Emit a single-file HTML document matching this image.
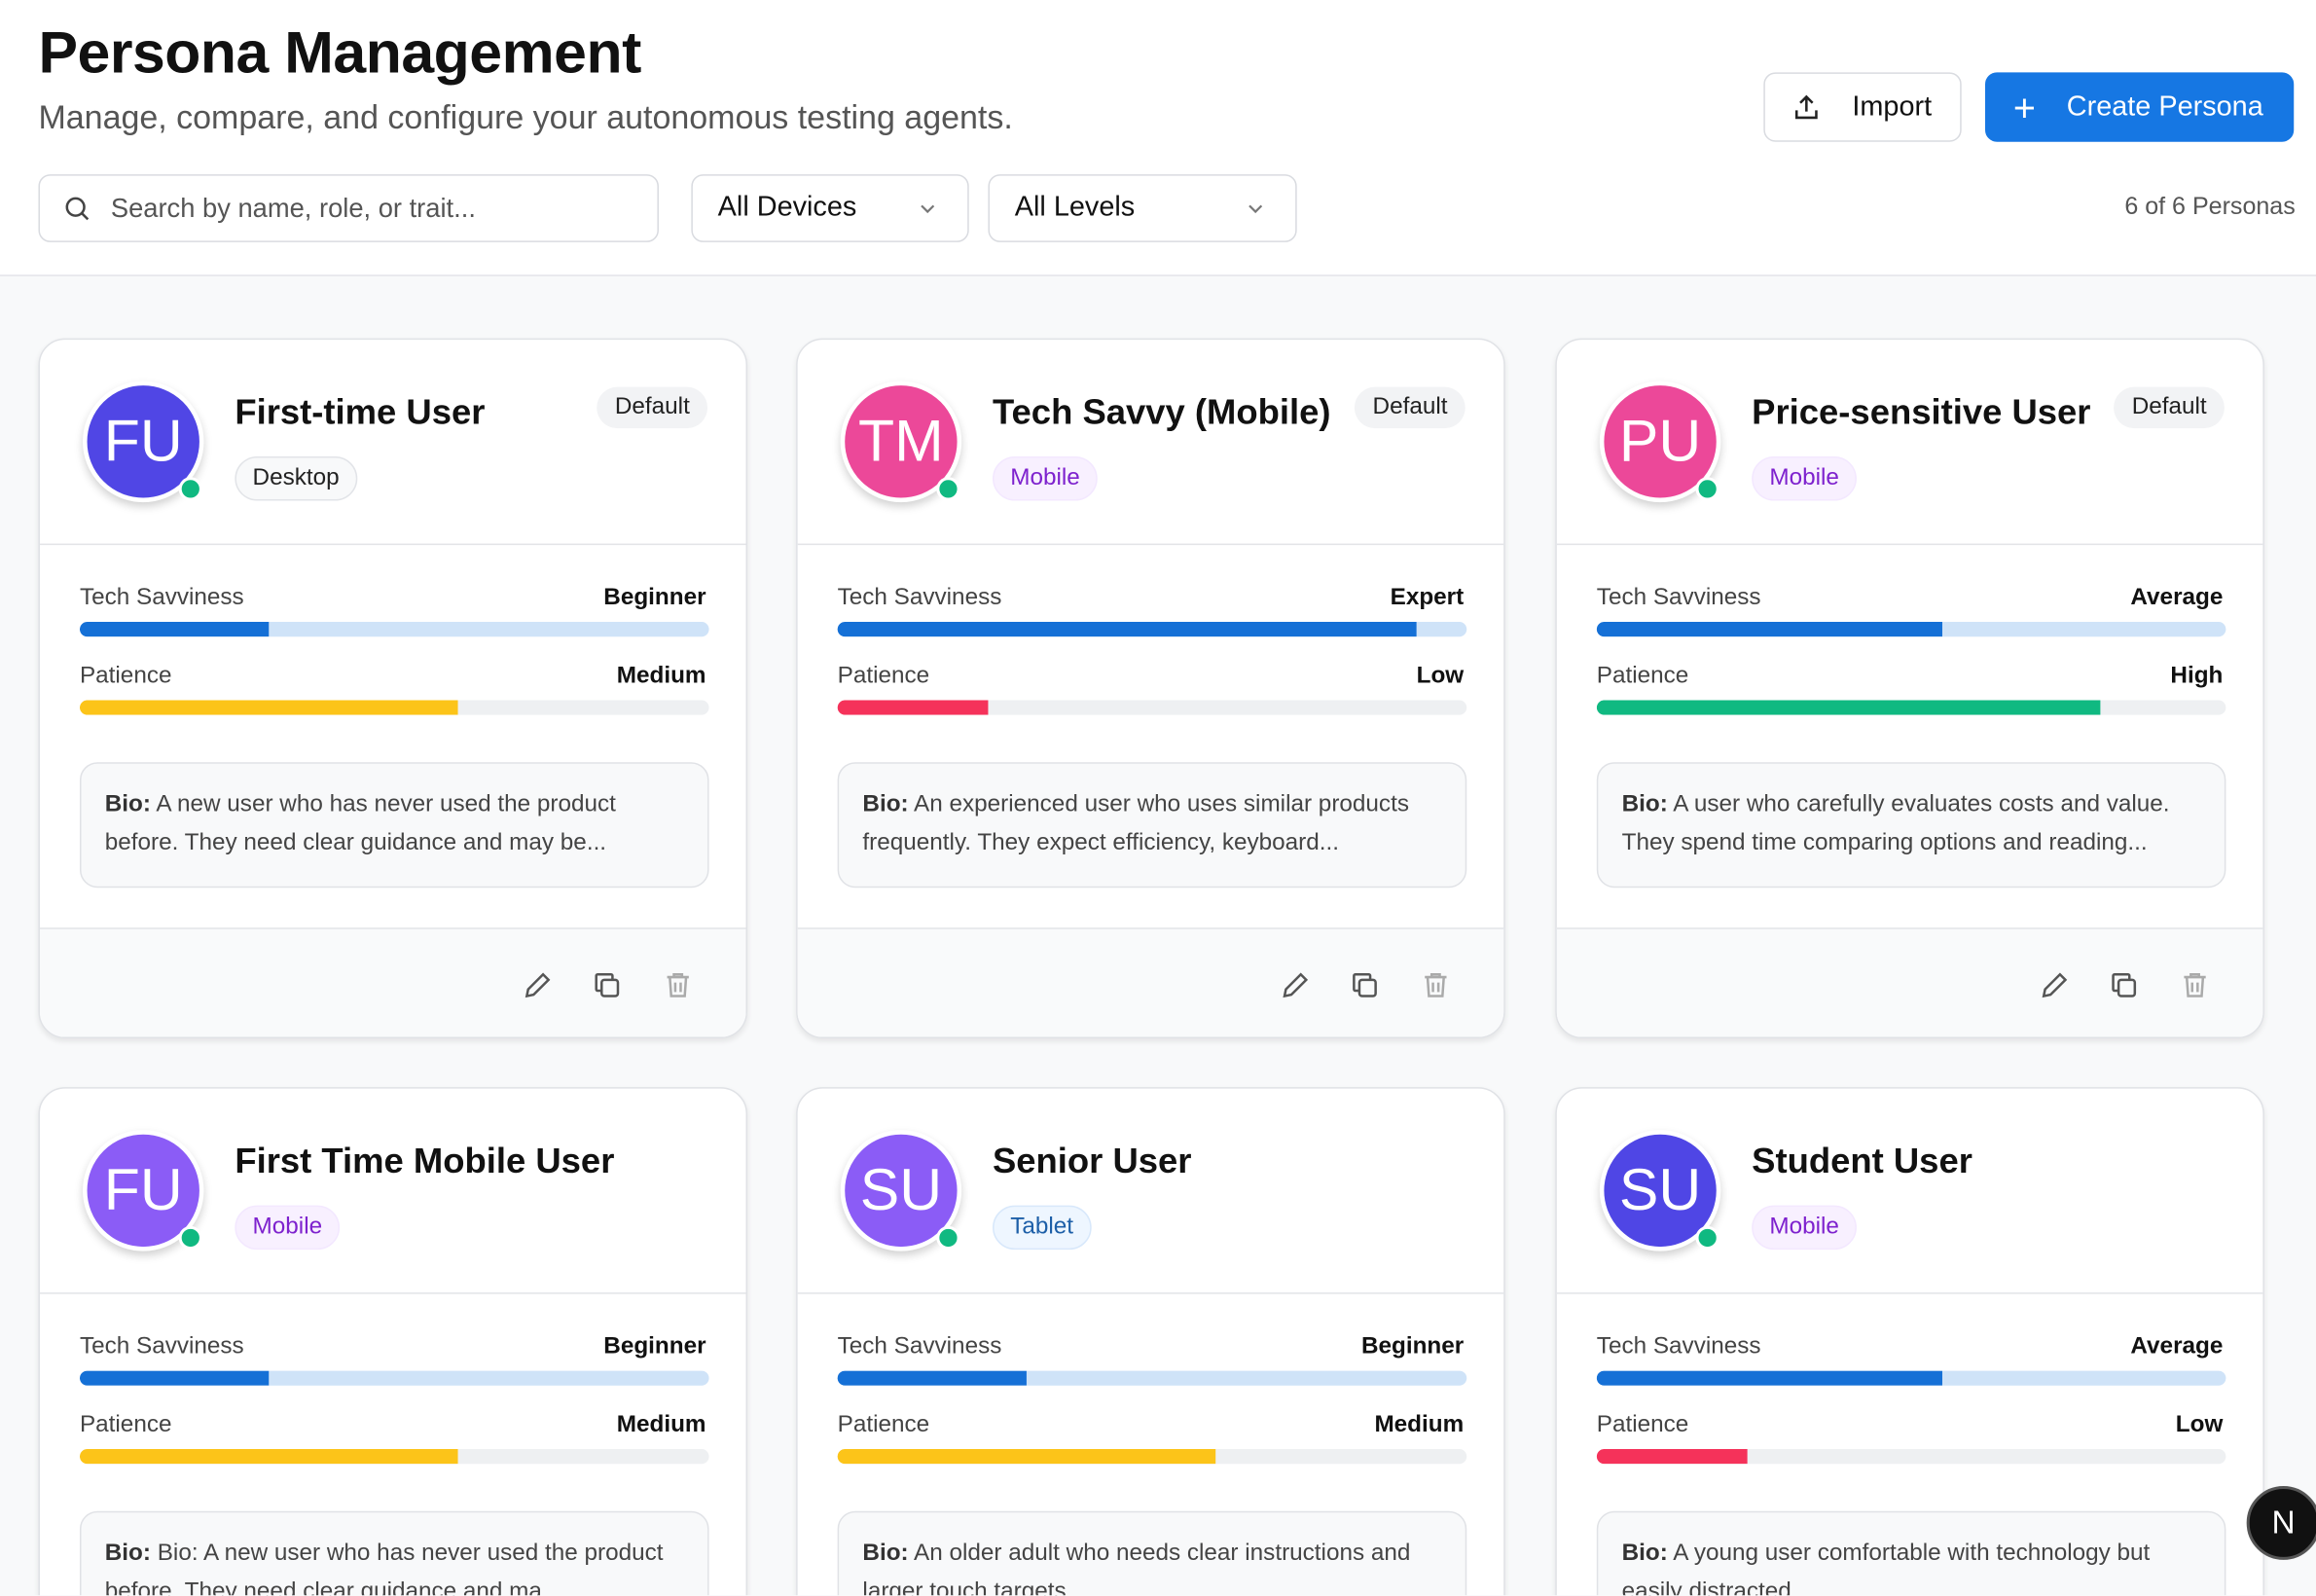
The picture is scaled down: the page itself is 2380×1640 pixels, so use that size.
<!DOCTYPE html>
<html><head><meta charset="utf-8">
<style>
*{box-sizing:border-box;margin:0;padding:0}
html,body{width:2380px;height:1640px;overflow:hidden;background:#f8f9fa}
#w{width:1568px;height:1080px;overflow:hidden;transform:scale(1.51786);transform-origin:0 0;position:relative;font-family:"Liberation Sans",sans-serif;color:#111}
.hdr{position:absolute;left:0;top:0;width:1568px;height:187px;background:#fff;border-bottom:1px solid #e3e4e8}
.abs{position:absolute}
h1{position:absolute;left:26px;top:14px;font-size:40px;font-weight:700;letter-spacing:-0.3px}
.sub{left:26px;top:67px;font-size:22.4px;color:#555}
.btn{border:1px solid #d9dbe0;border-radius:8px;background:#fff;font-size:19px;display:flex;align-items:center}
.card{position:absolute;width:480px;background:#fff;border:1px solid #e0e2e6;border-radius:18px;box-shadow:0 2px 4px rgba(0,0,0,.08);overflow:hidden}
.av{position:absolute;left:29px;top:28px;width:82px;height:82px;border-radius:50%;border:3px solid #fff;box-shadow:0 3px 6px rgba(0,0,0,.18);color:#fff;font-size:40px;display:flex;align-items:center;justify-content:center}
.dot{position:absolute;left:94px;top:93px;width:16px;height:16px;border-radius:50%;background:#10b981;border:2px solid #fff}
.nm{position:absolute;left:132px;top:36px;font-size:24px;font-weight:700}
.bd{position:absolute;left:132px;top:79px;height:30px;padding:0 11px;border-radius:15px;font-size:16px;line-height:28px;border:1px solid #e2e4e8;background:#f8f9fa;color:#222}
.mob{background:#f8f0ff;border-color:#f3e8ff;color:#7e22ce}
.tab{background:#eef6ff;border-color:#d8e8fb;color:#1d5fa8}
.def{position:absolute;right:26px;top:32px;height:28px;padding:0 12px;border-radius:14px;background:#f2f3f5;font-size:16px;line-height:28px;color:#222}
.div{position:absolute;left:0;width:480px;height:1px;background:#e3e4e8}
.lb{position:absolute;left:27px;font-size:16px;color:#444}
.lv{position:absolute;right:27px;font-size:16px;font-weight:700}
.bar{position:absolute;left:27px;width:426px;height:10px;border-radius:5px;overflow:hidden}
.bar i{display:block;height:100%;border-radius:5px 0 0 5px}
.bio{position:absolute;left:27px;top:286px;width:426px;height:85px;border:1px solid #e0e2e6;border-radius:12px;background:#f8f9fa;padding:15px 16px;font-size:16px;line-height:26px;color:#444}
.bio b{color:#333}
.ft{position:absolute;left:0;top:398px;width:480px;height:80px;background:#f9fafb;border-top:1px solid #e3e4e8}
.ic{position:absolute;top:27px}
</style></head><body><div id="w">
<div class="hdr">
<h1>Persona Management</h1>
<div class="abs sub">Manage, compare, and configure your autonomous testing agents.</div>
<div class="abs btn" style="left:1194px;top:49px;width:134px;height:47px;padding-left:18px">
<svg width="20" height="20" viewBox="0 0 24 24" fill="none" stroke="#222" stroke-width="2"><path d="M12 15V3M7 8l5-5 5 5M4 14v6h16v-6"/></svg><span style="margin-left:21px">Import</span></div>
<div class="abs btn" style="left:1344px;top:49px;width:209px;height:47px;background:#1677e3;border-color:#1677e3;color:#fff;padding-left:18px">
<span style="font-size:26px;font-weight:300;line-height:20px">+</span><span style="margin-left:21px">Create Persona</span></div>
<div class="abs btn" style="left:26px;top:118px;width:420px;height:46px;padding-left:15px;color:#555;font-size:18px">
<svg width="20" height="20" viewBox="0 0 24 24" fill="none" stroke="#444" stroke-width="2"><circle cx="11" cy="11" r="7"/><path d="M16 16l5 5"/></svg><span style="margin-left:13px">Search by name, role, or trait...</span></div>
<div class="abs btn" style="left:468px;top:118px;width:188px;height:46px;padding-left:17px">All Devices<svg style="position:absolute;right:20px" width="14" height="14" viewBox="0 0 24 24" fill="none" stroke="#777" stroke-width="2.5"><path d="M5 9l7 7 7-7"/></svg></div>
<div class="abs btn" style="left:669px;top:118px;width:209px;height:46px;padding-left:17px">All Levels<svg style="position:absolute;right:20px" width="14" height="14" viewBox="0 0 24 24" fill="none" stroke="#777" stroke-width="2.5"><path d="M5 9l7 7 7-7"/></svg></div>
<div class="abs" style="right:14px;top:131px;font-size:16.5px;color:#555">6 of 6 Personas</div>
</div>

<div class="card" style="left:26px;top:229px;height:474px">
<div class="av" style="background:#5046e5">FU</div><div class="dot"></div>
<div class="nm">First-time User</div><div class="bd">Desktop</div><div class="def">Default</div>
<div class="div" style="top:138px"></div>
<div class="lb" style="top:166px">Tech Savviness</div><div class="lv" style="top:166px">Beginner</div>
<div class="bar" style="top:191px;background:#cfe3f8"><i style="width:30%;background:#1570d6"></i></div>
<div class="lb" style="top:219px">Patience</div><div class="lv" style="top:219px">Medium</div>
<div class="bar" style="top:244px;background:#eef0f2"><i style="width:60%;background:#fcc419"></i></div>
<div class="bio"><b>Bio:</b> A new user who has never used the product before. They need clear guidance and may be...</div>
<div class="ft"></div>
</div>

<div class="card" style="left:539px;top:229px;height:474px">
<div class="av" style="background:#ec4899">TM</div><div class="dot"></div>
<div class="nm">Tech Savvy (Mobile)</div><div class="bd mob">Mobile</div><div class="def">Default</div>
<div class="div" style="top:138px"></div>
<div class="lb" style="top:166px">Tech Savviness</div><div class="lv" style="top:166px">Expert</div>
<div class="bar" style="top:191px;background:#cfe3f8"><i style="width:92%;background:#1570d6"></i></div>
<div class="lb" style="top:219px">Patience</div><div class="lv" style="top:219px">Low</div>
<div class="bar" style="top:244px;background:#eef0f2"><i style="width:24%;background:#f5325a"></i></div>
<div class="bio"><b>Bio:</b> An experienced user who uses similar products frequently. They expect efficiency, keyboard...</div>
<div class="ft"></div>
</div>

<div class="card" style="left:1053px;top:229px;height:474px">
<div class="av" style="background:#ec4899">PU</div><div class="dot"></div>
<div class="nm">Price-sensitive User</div><div class="bd mob">Mobile</div><div class="def">Default</div>
<div class="div" style="top:138px"></div>
<div class="lb" style="top:166px">Tech Savviness</div><div class="lv" style="top:166px">Average</div>
<div class="bar" style="top:191px;background:#cfe3f8"><i style="width:55%;background:#1570d6"></i></div>
<div class="lb" style="top:219px">Patience</div><div class="lv" style="top:219px">High</div>
<div class="bar" style="top:244px;background:#eef0f2"><i style="width:80%;background:#10b981"></i></div>
<div class="bio"><b>Bio:</b> A user who carefully evaluates costs and value. They spend time comparing options and reading...</div>
<div class="ft"></div>
</div>

<div class="card" style="left:26px;top:736px;height:400px">
<div class="av" style="background:#8b5cf6">FU</div><div class="dot"></div>
<div class="nm">First Time Mobile User</div><div class="bd mob">Mobile</div>
<div class="div" style="top:138px"></div>
<div class="lb" style="top:166px">Tech Savviness</div><div class="lv" style="top:166px">Beginner</div>
<div class="bar" style="top:191px;background:#cfe3f8"><i style="width:30%;background:#1570d6"></i></div>
<div class="lb" style="top:219px">Patience</div><div class="lv" style="top:219px">Medium</div>
<div class="bar" style="top:244px;background:#eef0f2"><i style="width:60%;background:#fcc419"></i></div>
<div class="bio"><b>Bio:</b> Bio: A new user who has never used the product before. They need clear guidance and ma...</div>
</div>

<div class="card" style="left:539px;top:736px;height:400px">
<div class="av" style="background:#8b5cf6">SU</div><div class="dot"></div>
<div class="nm">Senior User</div><div class="bd tab">Tablet</div>
<div class="div" style="top:138px"></div>
<div class="lb" style="top:166px">Tech Savviness</div><div class="lv" style="top:166px">Beginner</div>
<div class="bar" style="top:191px;background:#cfe3f8"><i style="width:30%;background:#1570d6"></i></div>
<div class="lb" style="top:219px">Patience</div><div class="lv" style="top:219px">Medium</div>
<div class="bar" style="top:244px;background:#eef0f2"><i style="width:60%;background:#fcc419"></i></div>
<div class="bio"><b>Bio:</b> An older adult who needs clear instructions and larger touch targets.</div>
</div>

<div class="card" style="left:1053px;top:736px;height:400px">
<div class="av" style="background:#4f46e5">SU</div><div class="dot"></div>
<div class="nm">Student User</div><div class="bd mob">Mobile</div>
<div class="div" style="top:138px"></div>
<div class="lb" style="top:166px">Tech Savviness</div><div class="lv" style="top:166px">Average</div>
<div class="bar" style="top:191px;background:#cfe3f8"><i style="width:55%;background:#1570d6"></i></div>
<div class="lb" style="top:219px">Patience</div><div class="lv" style="top:219px">Low</div>
<div class="bar" style="top:244px;background:#eef0f2"><i style="width:24%;background:#f5325a"></i></div>
<div class="bio"><b>Bio:</b> A young user comfortable with technology but easily distracted.</div>
</div>

<div class="abs" style="left:1521px;top:1006px;width:50px;height:50px;border-radius:50%;background:#111;border:2px solid #555;color:#fff;font-size:22px;display:flex;align-items:center;justify-content:center">N</div>
</div>
<script>
document.querySelectorAll('.ft').forEach(f=>{
f.innerHTML='<svg class="ic" style="left:326px" width="22" height="22" viewBox="0 0 24 24" fill="none" stroke="#555" stroke-width="1.8"><path d="M4 20l1-5L16 4l4 4L9 19z"/></svg>'+
'<svg class="ic" style="left:373px" width="22" height="22" viewBox="0 0 24 24" fill="none" stroke="#555" stroke-width="1.8"><rect x="8" y="8" width="12" height="12" rx="2"/><path d="M16 8V5a1 1 0 0 0-1-1H5a1 1 0 0 0-1 1v10a1 1 0 0 0 1 1h3"/></svg>'+
'<svg class="ic" style="left:421px" width="22" height="22" viewBox="0 0 24 24" fill="none" stroke="#aaa" stroke-width="1.8"><path d="M4 6h16M9 6V4h6v2M6 6l1 14h10l1-14M10 10v7M14 10v7"/></svg>';
});
</script>
</body></html>
